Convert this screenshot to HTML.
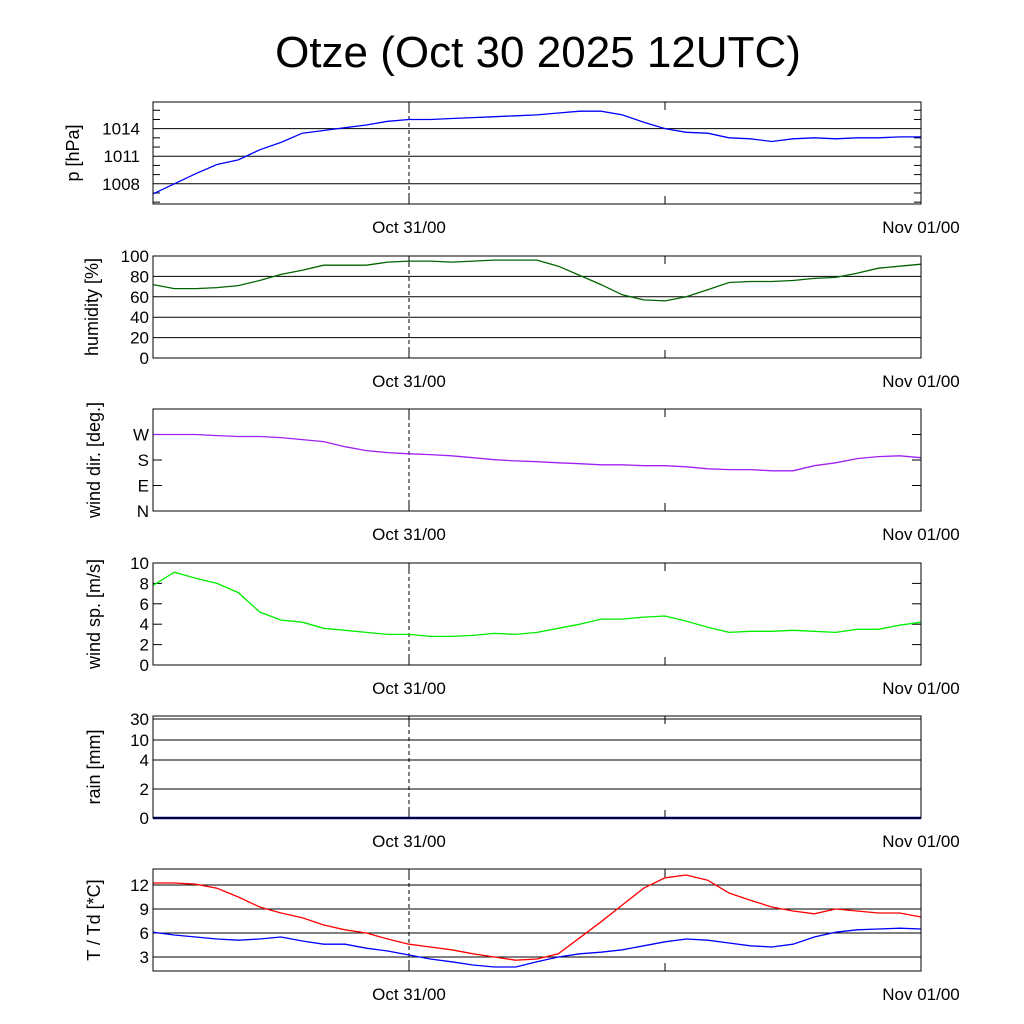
<!DOCTYPE html>
<html><head><meta charset="utf-8"><style>
html,body{margin:0;padding:0;background:#fff}
svg{display:block;font-family:"Liberation Sans",sans-serif}
</style></head><body>
<svg id="c" width="1024" height="1024" viewBox="0 0 1024 1024">
<text x="538" y="67" font-size="44" text-anchor="middle">Otze (Oct 30 2025 12UTC)</text>
</svg>
<script>
const hours = [0,1,2,3,4,5,6,7,8,9,10,11,12,13,14,15,16,17,18,19,20,21,22,23,24,25,26,27,28,29,30,31,32,33,34,35,36];
const pressure = [1006.9,1008.0,1009.1,1010.1,1010.6,1011.7,1012.5,1013.5,1013.8,1014.1,1014.4,1014.8,1015.0,1015.0,1015.1,1015.2,1015.3,1015.4,1015.5,1015.7,1015.9,1015.9,1015.5,1014.7,1014.0,1013.6,1013.5,1013.0,1012.9,1012.6,1012.9,1013.0,1012.9,1013.0,1013.0,1013.1,1013.1];
const humidity = [72,68,68,69,71,76,82,86,91,91,91,94,95,95,94,95,96,96,96,90,81,72,62,57,56,60,67,74,75,75,76,78,79,83,88,90,92];
const windDir = [270,270,270,266,263,263,259,252,245,227,213,206,202,199,195,188,181,177,174,170,167,163,163,160,160,156,149,146,146,142,142,160,170,185,192,195,188];
const windSpeed = [7.8,9.1,8.5,8.0,7.1,5.2,4.4,4.2,3.6,3.4,3.2,3.0,3.0,2.8,2.8,2.9,3.1,3.0,3.2,3.6,4.0,4.5,4.5,4.7,4.8,4.3,3.7,3.2,3.3,3.3,3.4,3.3,3.2,3.5,3.5,3.9,4.2];
const rain = [0,0,0,0,0,0,0,0,0,0,0,0,0,0,0,0,0,0,0,0,0,0,0,0,0,0,0,0,0,0,0,0,0,0,0,0,0];
const temp = [12.25,12.25,12.1,11.6,10.5,9.25,8.5,7.9,7.0,6.4,6.0,5.25,4.6,4.25,3.9,3.4,3.0,2.6,2.75,3.4,5.4,7.4,9.5,11.6,12.9,13.25,12.6,11.0,10.1,9.25,8.75,8.4,9.0,8.75,8.5,8.5,8.0];
const dew = [6.1,5.75,5.5,5.25,5.1,5.25,5.5,5.0,4.6,4.6,4.1,3.75,3.25,2.75,2.4,2.0,1.75,1.75,2.4,3.0,3.4,3.6,3.9,4.4,4.9,5.25,5.1,4.75,4.4,4.25,4.6,5.5,6.1,6.4,6.5,6.6,6.5];
const pressureMinor = [1006,1007,1009,1010,1012,1013,1015,1016];
const xLabels = ["Oct 31/00","Nov 01/00"];
const xLabelHours = [12,36];

const NS="http://www.w3.org/2000/svg";
const svg=document.getElementById('c');
const X0=153,X1=921,HMAX=36;
const xs=h=>X0+(X1-X0)*h/HMAX;
function mk(tag,attrs,parent){const e=document.createElementNS(NS,tag);for(const k in attrs)e.setAttribute(k,attrs[k]);(parent||svg).appendChild(e);return e;}

const panels=[
 {name:'pressure',top:102,bot:204,min:1005.8,max:1016.9,grid:[1008,1011,1014],labels:['1008','1011','1014'],title:'p [hPa]',tx:79,lx:X0-13,minor:pressureMinor,series:[[pressure,'#0000ff']]},
 {name:'humidity',top:256,bot:358,min:0,max:100,grid:[0,20,40,60,80,100],labels:['0','20','40','60','80','100'],title:'humidity [%]',tx:98,series:[[humidity,'#006400']]},
 {name:'wind-direction',top:409,bot:511,min:0,max:360,grid:[0,90,180,270],labels:['N','E','S','W'],title:'wind dir. [deg.]',tx:100,series:[[windDir,'#a020f0']],noGrid:true},
 {name:'wind-speed',top:563,bot:665,min:0,max:10,grid:[0,2,4,6,8,10],labels:['0','2','4','6','8','10'],title:'wind sp. [m/s]',tx:100,series:[[windSpeed,'#00ee00']],noGrid:true},
 {name:'rain',top:716,bot:818,min:0,max:1,grid:[0,2,4,10,30],labels:['0','2','4','10','30'],gridY:[818,789,760,740,719],title:'rain [mm]',tx:100,series:[[rain,'#00008b']],thick:2.5},
 {name:'temperature',top:869,bot:971,min:1.25,max:14,grid:[3,6,9,12],labels:['3','6','9','12'],title:'T / Td [*C]',tx:100,series:[[temp,'#ff0000'],[dew,'#0000ff']]}
];

panels.forEach(p=>{
  const g=mk('g',{});
  
  
  const ys=v=>p.bot-(p.bot-p.top)*(v-p.min)/(p.max-p.min);
  (p.minor||[]).forEach(v=>{const y=ys(v);mk('line',{x1:X0,x2:X0+7,y1:y,y2:y,stroke:'#000'},g);mk('line',{x1:X1-7,x2:X1,y1:y,y2:y,stroke:'#000'},g);});
  p.grid.forEach((v,i)=>{
    const y=p.gridY?p.gridY[i]:ys(v);
    if(!p.noGrid){const l=mk('line',{x1:X0,x2:X1,y1:y,y2:y,stroke:'#000','stroke-width':1},g);}
    else{mk('line',{x1:X0,x2:X0+9,y1:y,y2:y,stroke:'#000'},g);mk('line',{x1:X1-9,x2:X1,y1:y,y2:y,stroke:'#000'},g);}
    const t=mk('text',{x:p.lx||X0-4,y:y+6,'font-size':17,'text-anchor':'end'},g);
    
    t.textContent=p.labels[i];
  });
  mk('line',{x1:xs(12),x2:xs(12),y1:p.top,y2:p.bot,stroke:'#000','stroke-dasharray':'4,3'},g);
  [12,24].forEach(h=>{mk('line',{x1:xs(h),x2:xs(h),y1:p.bot,y2:p.bot-8,stroke:'#000'},g);mk('line',{x1:xs(h),x2:xs(h),y1:p.top,y2:p.top+8,stroke:'#000'},g);});
  p.series.forEach(([arr,col])=>{
    const d=arr.map((v,i)=>(i?'L':'M')+xs(hours[i]).toFixed(1)+','+ys(v).toFixed(1)).join('');
    const pa=mk('path',{d:d,fill:'none',stroke:col,'stroke-width':p.thick||1.3},g);
    
  });
  mk('rect',{x:X0,y:p.top,width:X1-X0,height:p.bot-p.top,fill:'none',stroke:'#000','stroke-width':1},g);
  xLabelHours.forEach((h,i)=>{
    const t=mk('text',{x:xs(h),y:p.bot+29,'font-size':17,'text-anchor':'middle'},g);
    
    t.textContent=xLabels[i];
  });
  const cy=(p.top+p.bot)/2;
  const t=mk('text',{x:0,y:0,'font-size':18,'text-anchor':'middle',transform:`translate(${p.tx},${cy}) rotate(-90)`},g);
  
  t.textContent=p.title;
});
</script>
</body></html>
